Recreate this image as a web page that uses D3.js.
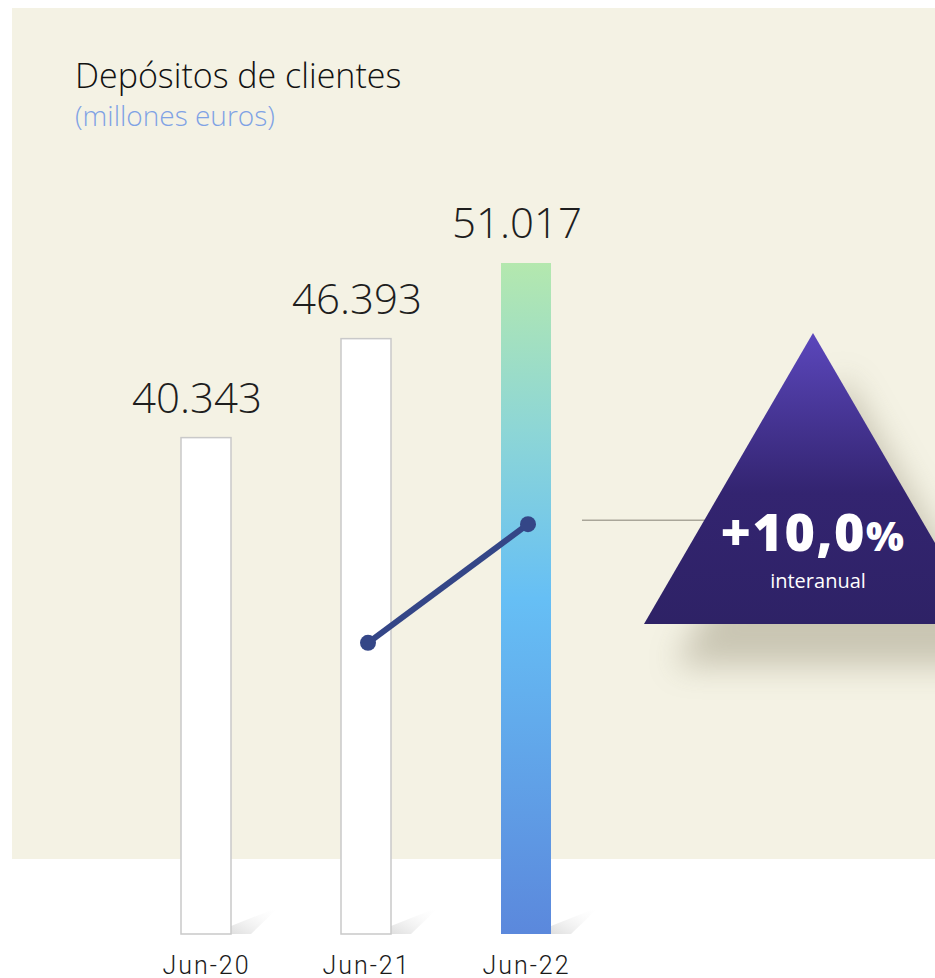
<!DOCTYPE html>
<html>
<head>
<meta charset="utf-8">
<script src="https://cdn.jsdelivr.net/npm/d3@7"></script>
<style>
  html, body { margin: 0; padding: 0; background: #fff; }
  svg { display: block; }
</style>
</head>
<body>
<svg id="chart" width="935" height="978"></svg>
<script>
/* ── Data ────────────────────────────────────────────────────────── */
const periods   = ['Jun-20', 'Jun-21', 'Jun-22'];
const deposits  = [40343, 46393, 51017];
const valueText = ['40.343', '46.393', '51.017'];
// decorative trend line drawn across the last two bars
const trendAt   = ['Jun-21', 'Jun-22'];
const trendVals = [27800, 35050];
const growthTxt = '+10,0';
const growthSub = 'interanual';

/* ── Layout ──────────────────────────────────────────────────────── */
const W = 935, H = 978;
const BASE   = 934;   // bar baseline
const TOP    = 263;   // top of the tallest bar
const BAR_W  = 50;
const FONT   = '"Open Sans", "Noto Sans", sans-serif';

const svg  = d3.select('#chart');
const defs = svg.append('defs');

/* panel */
svg.append('rect')
  .attr('x', 12).attr('y', 8)
  .attr('width', W - 12).attr('height', 851)
  .attr('fill', '#f4f2e4');

/* scales */
const x = d3.scalePoint()
  .domain(periods)
  .range([206, 526]);

const y = d3.scaleLinear()
  .domain([10000, d3.max(deposits)])
  .range([BASE, TOP]);

/* gradients */
const barGrad = defs.append('linearGradient')
  .attr('id', 'barGrad').attr('x1', 0).attr('y1', 0).attr('x2', 0).attr('y2', 1);
barGrad.append('stop').attr('offset', '0%').attr('stop-color', '#b4e8ae');
barGrad.append('stop').attr('offset', '25%').attr('stop-color', '#8dd6d6');
barGrad.append('stop').attr('offset', '50%').attr('stop-color', '#66bff5');
barGrad.append('stop').attr('offset', '100%').attr('stop-color', '#5b88dc');

const shGrad = defs.append('linearGradient')
  .attr('id', 'shGrad').attr('x1', 0).attr('y1', 1).attr('x2', 1).attr('y2', 0);
shGrad.append('stop').attr('offset', '0%').attr('stop-color', '#d6d6d6').attr('stop-opacity', 0.8);
shGrad.append('stop').attr('offset', '100%').attr('stop-color', '#ffffff').attr('stop-opacity', 0);

const triGrad = defs.append('linearGradient')
  .attr('id', 'triGrad').attr('x1', 0).attr('y1', 0).attr('x2', 0).attr('y2', 1);
triGrad.append('stop').attr('offset', '0%').attr('stop-color', '#5b47bc');
triGrad.append('stop').attr('offset', '55%').attr('stop-color', '#332470');
triGrad.append('stop').attr('offset', '100%').attr('stop-color', '#2e2266');

const blur = defs.append('filter').attr('id', 'blur')
  .attr('x', '-50%').attr('y', '-50%').attr('width', '200%').attr('height', '200%');
blur.append('feGaussianBlur').attr('stdDeviation', 16);

/* ── Title ───────────────────────────────────────────────────────── */
svg.append('text')
  .attr('x', 75).attr('y', 88)
  .attr('font-family', FONT).attr('font-weight', 300)
  .attr('font-size', 34).attr('fill', '#111')
  .text('Depósitos de clientes');

svg.append('text')
  .attr('x', 75).attr('y', 126)
  .attr('font-family', FONT).attr('font-weight', 300)
  .attr('font-size', 28).attr('fill', '#7fa2e4')
  .text('(millones euros)');

/* ── Bars ────────────────────────────────────────────────────────── */
const bars = svg.append('g');

// small floor shadows at the foot of each bar
bars.selectAll('.shadow')
  .data(periods)
  .join('path')
  .attr('class', 'shadow')
  .attr('fill', 'url(#shGrad)')
  .attr('d', p => {
    const r = x(p) + BAR_W / 2;
    return `M${r},${BASE} L${r},${BASE - 8} L${r + 48},${BASE - 27} L${r + 20},${BASE} Z`;
  });

bars.selectAll('.bar')
  .data(periods)
  .join('rect')
  .attr('class', 'bar')
  .attr('x', p => x(p) - BAR_W / 2)
  .attr('width', BAR_W)
  .attr('y', (p, i) => y(deposits[i]))
  .attr('height', (p, i) => BASE - y(deposits[i]))
  .attr('fill', (p, i) => i === periods.length - 1 ? 'url(#barGrad)' : '#ffffff')
  .attr('stroke', (p, i) => i === periods.length - 1 ? 'none' : '#c9c9c9')
  .attr('stroke-width', 1.5);

bars.selectAll('.val')
  .data(periods)
  .join('text')
  .attr('class', 'val')
  .attr('x', p => x(p) - 9)
  .attr('y', (p, i) => y(deposits[i]) - 25)
  .attr('text-anchor', 'middle')
  .attr('font-family', FONT).attr('font-weight', 300)
  .attr('font-size', 42).attr('fill', '#1e1e1e')
  .text((p, i) => valueText[i]);

/* ── X axis labels ───────────────────────────────────────────────── */
const xAxis = d3.axisBottom(x).tickSize(0).tickPadding(0);
const ax = svg.append('g')
  .attr('transform', `translate(0,${BASE + 22})`)
  .call(xAxis);
ax.select('.domain').remove();
ax.selectAll('text')
  .attr('font-family', 'Roboto, "DejaVu Sans", sans-serif')
  .attr('font-weight', 300).attr('font-size', 25)
  .attr('letter-spacing', 2)
  .attr('fill', '#1a1a1a')
  .attr('dy', '0.7em');

/* ── Trend line ──────────────────────────────────────────────────── */
const trend = trendAt.map((p, i) => [x(p) + 2, y(trendVals[i])]);
svg.append('path')
  .attr('d', d3.line()(trend))
  .attr('stroke', '#344687').attr('stroke-width', 6)
  .attr('fill', 'none');
svg.selectAll('.dot')
  .data(trend)
  .join('circle')
  .attr('class', 'dot')
  .attr('cx', d => d[0]).attr('cy', d => d[1])
  .attr('r', 8).attr('fill', '#344687');

/* ── Growth badge ────────────────────────────────────────────────── */
const apex = [813, 333], half = 169, triH = 291;
const triPts = [[apex[0], apex[1]], [apex[0] - half, apex[1] + triH], [apex[0] + half, apex[1] + triH]];

svg.append('path')
  .attr('d', d3.line()(triPts.map(([a, b]) => [a + 30, b + 42])) + 'Z')
  .attr('fill', '#7a7358').attr('opacity', 0.35)
  .attr('filter', 'url(#blur)');

const lineY = y(trendVals[1]) - 4;
svg.append('line')
  .attr('x1', 582).attr('x2', 720)
  .attr('y1', lineY).attr('y2', lineY)
  .attr('stroke', '#a9a699').attr('stroke-width', 1.5);

svg.append('path')
  .attr('d', d3.line()(triPts) + 'Z')
  .attr('fill', 'url(#triGrad)');

const gt = svg.append('text')
  .attr('x', 813).attr('y', 551)
  .attr('text-anchor', 'middle')
  .attr('font-family', FONT).attr('font-weight', 800)
  .attr('letter-spacing', 1.5)
  .attr('fill', '#ffffff');
gt.append('tspan').attr('font-size', 52).text(growthTxt);
gt.append('tspan').attr('font-size', 40).text('%');

svg.append('text')
  .attr('x', 818).attr('y', 588)
  .attr('text-anchor', 'middle')
  .attr('font-family', FONT).attr('font-weight', 400)
  .attr('font-size', 20).attr('fill', '#ffffff')
  .text(growthSub);
</script>
</body>
</html>
